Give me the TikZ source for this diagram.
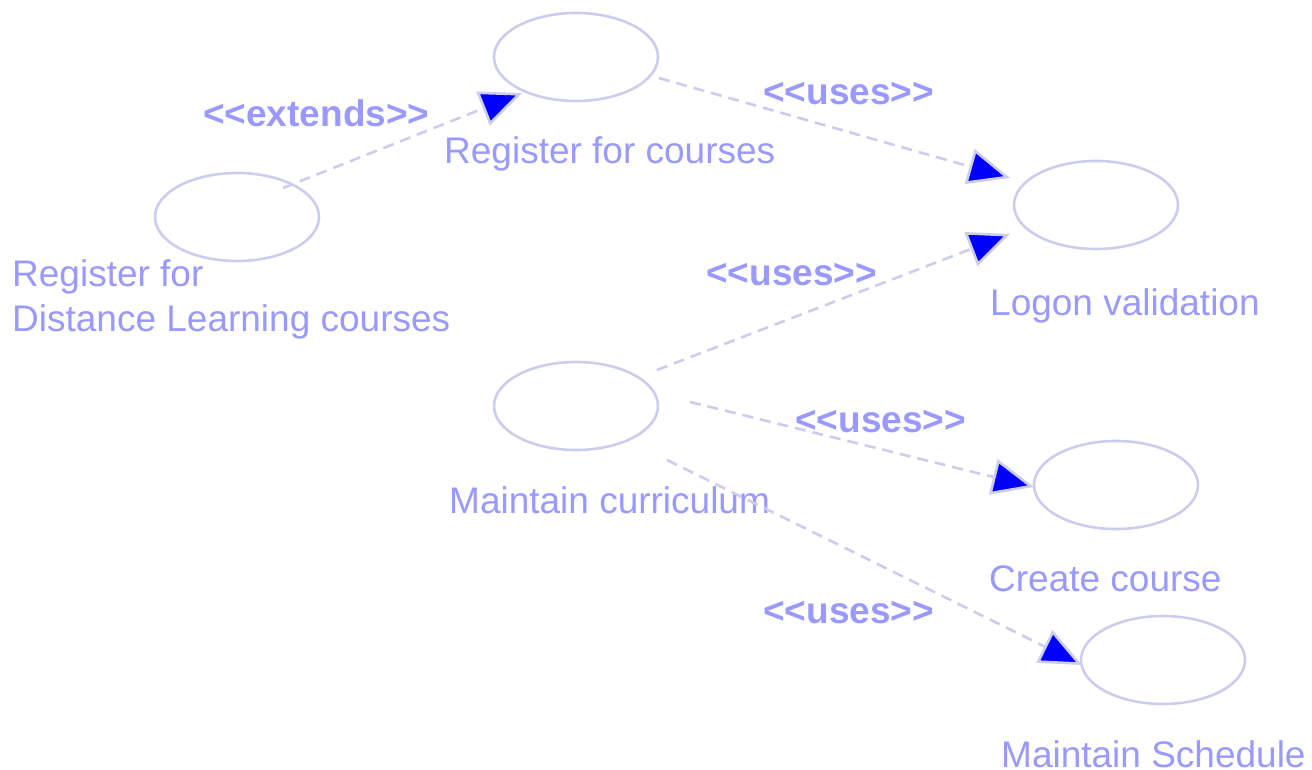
\documentclass[tikz,border=0pt]{standalone}
\usepackage{fontspec}
\setmainfont[Ligatures=NoCommon]{Liberation Sans}
\usetikzlibrary{arrows.meta,shapes.geometric,calc}
\definecolor{txtc}{HTML}{9999FF}
\definecolor{linec}{HTML}{CCCCEE}
\definecolor{tipc}{HTML}{0000FF}
\tikzset{
  usecase/.style={ellipse, draw=linec, line width=2.6pt, minimum width=164pt, minimum height=88pt, inner sep=0pt},
  lbl/.style={anchor=base west, inner sep=0pt, text=txtc, font=\fontsize{37}{45}\selectfont},
  stereo/.style={anchor=base west, inner sep=0pt, text=txtc, font=\fontsize{37}{45}\selectfont\bfseries},
  rel/.style={draw=linec, line width=2.6pt, dash pattern=on 11pt off 7pt,
    -{Triangle[length=42pt, width=36pt, fill=tipc]}}
}
\begin{document}
\begin{tikzpicture}[x=1pt, y=-1pt]
\useasboundingbox (0,0) rectangle (1312,770);
% use cases
\node[usecase] (reg)   at (576,57)   {};
\node[usecase] (dl)    at (237,217)  {};
\node[usecase] (logon) at (1096,205) {};
\node[usecase] (cur)   at (576,406)  {};
\node[usecase] (create) at (1116,485) {};
\node[usecase] (sched) at (1163,660) {};
% labels
\node[lbl] (regl) at (444,164) {Register for courses};
\node[lbl, align=left, anchor=north west] (dll) at (12,259) {Register for\\Distance Learning courses};
\node[lbl] (logonl) at (990,315) {Logon validation};
\node[lbl] (curl) at (449,513) {Maintain curriculum};
\node[lbl] (createl) at (989,591) {Create course};
\node[lbl] (schedl) at (1001,767) {Maintain Schedule};
% stereotypes
\node[stereo] (s1) at (203,127) {<{}<extends>{}>};
\node[stereo] (s2) at (763,105) {<{}<uses>{}>};
\node[stereo] (s3) at (706,285) {<{}<uses>{}>};
\node[stereo] (s4) at (795,432) {<{}<uses>{}>};
\node[stereo] (s5) at (763,623) {<{}<uses>{}>};
% connectors
\draw[rel] ($(dl.center)+(46,-29)$) -- ($(reg.center)+(-54,36)$);
\draw[rel] ($(reg.center)+(83,21)$) -- ($(logon.center)+(-86,-27)$);
\draw[rel] ($(cur.center)+(81,-36)$) -- ($(logon.center)+(-86,29)$);
\draw[rel] ($(cur.center)+(114,-4)$) -- ($(create.center)+(-82,2)$);
\draw[rel] ($(cur.center)+(91,54)$) -- ($(sched.center)+(-81,5)$);
\end{tikzpicture}
\end{document}
